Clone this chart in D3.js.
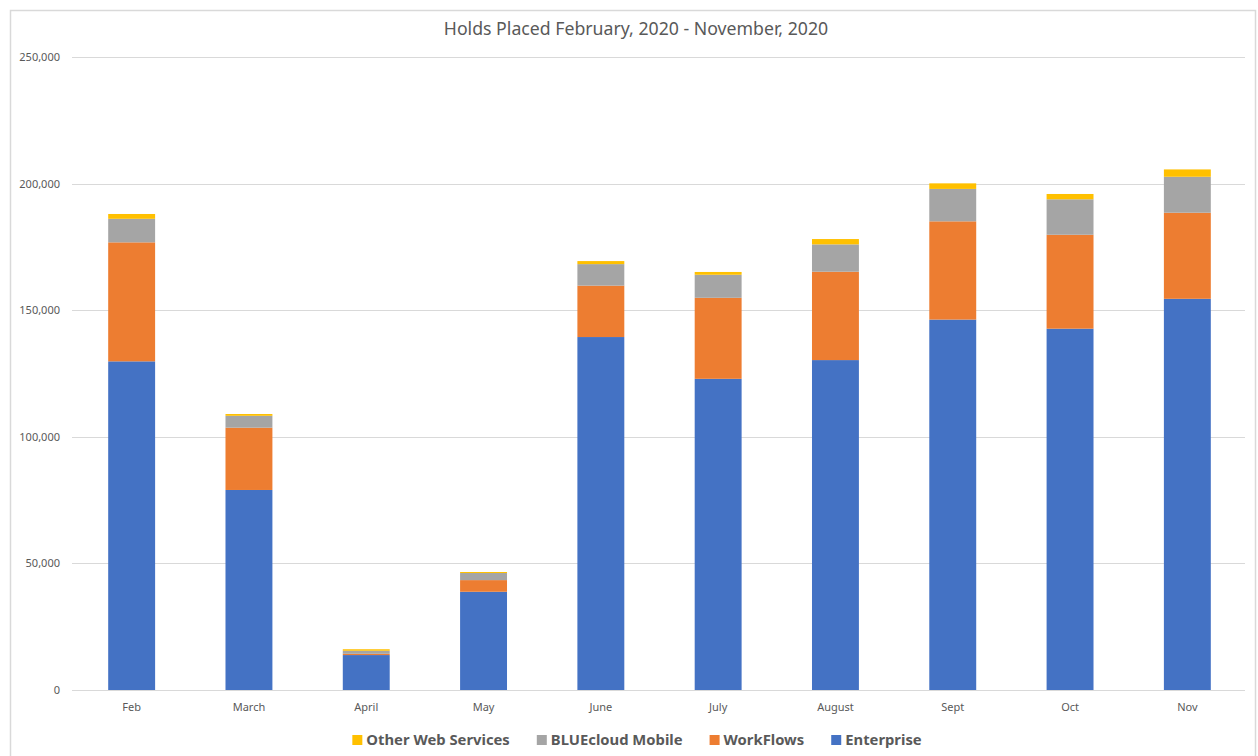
<!DOCTYPE html>
<html>
<head>
<meta charset="utf-8">
<script src="https://cdn.jsdelivr.net/npm/d3@7"></script>
<style>
  html, body { margin: 0; padding: 0; background: #fff; }
  svg { display: block; }
  text { font-family: "Noto Sans", "Open Sans", sans-serif; fill: #595959; }
</style>
</head>
<body>
<svg id="chart" width="1258" height="756"></svg>
<script>
// Monthly holds by channel (count of holds placed)
const months = ["Feb", "March", "April", "May", "June", "July", "August", "Sept", "Oct", "Nov"];
const enterprise = [129800, 79000, 13800, 38800, 139400, 122900, 130300, 146300, 142700, 154500];
const workflows = [47000, 24600, 500, 4600, 20300, 32000, 34900, 38800, 37100, 34000];
const bluecloudMobile = [9300, 4700, 1200, 2800, 8500, 9100, 10800, 12800, 14000, 14200];
const otherWebServices = [1900, 700, 600, 400, 1200, 1100, 2100, 2200, 2100, 2900];

const seriesNames = ["Enterprise", "WorkFlows", "BLUEcloud Mobile", "Other Web Services"];
const seriesColors = ["#4472C4", "#ED7D31", "#A5A5A5", "#FFC000"];
const yTicks = [0, 50000, 100000, 150000, 200000, 250000];
const title = "Holds Placed February, 2020 - November, 2020";

const rows = months.map((m, i) => ({
  month: m,
  "Enterprise": enterprise[i],
  "WorkFlows": workflows[i],
  "BLUEcloud Mobile": bluecloudMobile[i],
  "Other Web Services": otherWebServices[i]
}));

const svg = d3.select("#chart");
const W = 1258, H = 756;
const plot = { left: 72, right: 1245, top: 57, bottom: 690 };

// outer chart frame
svg.append("rect")
  .attr("x", 10.5).attr("y", 10.5)
  .attr("width", W - 13).attr("height", H)
  .attr("fill", "#fff").attr("stroke", "#d9d9d9").attr("stroke-width", 1.5);

const x = d3.scaleBand().domain(months).range([plot.left + 1, plot.right + 1]).paddingInner(0.6).paddingOuter(0.3);
const y = d3.scaleLinear().domain([0, 250000]).range([plot.bottom, plot.top]);
const color = d3.scaleOrdinal().domain(seriesNames).range(seriesColors);

// gridlines
svg.append("g")
  .selectAll("line").data(yTicks).join("line")
  .attr("x1", plot.left).attr("x2", plot.right)
  .attr("y1", d => Math.round(y(d)) + 0.5).attr("y2", d => Math.round(y(d)) + 0.5)
  .attr("stroke", "#d9d9d9").attr("stroke-width", 1);

// y axis labels
const yAxis = d3.axisLeft(y).tickValues(yTicks).tickFormat(d3.format(",")).tickSize(0).tickPadding(12);
svg.append("g").attr("transform", `translate(${plot.left},0)`).call(yAxis)
  .call(g => g.select(".domain").remove())
  .call(g => g.selectAll("text").attr("font-size", 11).attr("fill", "#595959")
    .style("font-family", '"Noto Sans", sans-serif'));

// stacked bars
const stack = d3.stack().keys(seriesNames)(rows);
svg.append("g").selectAll("g").data(stack).join("g")
  .attr("fill", d => color(d.key))
  .selectAll("rect").data(d => d).join("rect")
  .attr("x", d => x(d.data.month))
  .attr("width", x.bandwidth())
  .attr("y", d => y(d[1]))
  .attr("height", d => y(d[0]) - y(d[1]));

// x axis labels
const xAxis = d3.axisBottom(x).tickSize(0).tickPadding(13);
svg.append("g").attr("transform", `translate(0,${plot.bottom})`).call(xAxis)
  .call(g => g.select(".domain").remove())
  .call(g => g.selectAll("text").attr("font-size", 11).attr("fill", "#595959")
    .style("font-family", '"Noto Sans", sans-serif'));

// title
svg.append("text")
  .attr("x", 636).attr("y", 35)
  .attr("text-anchor", "middle")
  .attr("font-size", 17.7)
  .text(title);

// legend (drawn in reverse series order)
const legendOrder = seriesNames.slice().reverse();
const legend = svg.append("g");
let cursor = 0;
const gap = 27;
legendOrder.forEach(name => {
  const g = legend.append("g");
  g.append("rect").attr("x", 0).attr("y", -5).attr("width", 10).attr("height", 10).attr("fill", color(name));
  const t = g.append("text").attr("x", 14).attr("y", 5).attr("font-size", 14.8).attr("font-weight", "bold").text(name);
  const w = 14 + t.node().getComputedTextLength();
  g.attr("transform", `translate(${cursor},0)`);
  cursor += w + gap;
});
const legendWidth = cursor - gap;
legend.attr("transform", `translate(${637 - legendWidth / 2},740)`);
</script>
</body>
</html>
